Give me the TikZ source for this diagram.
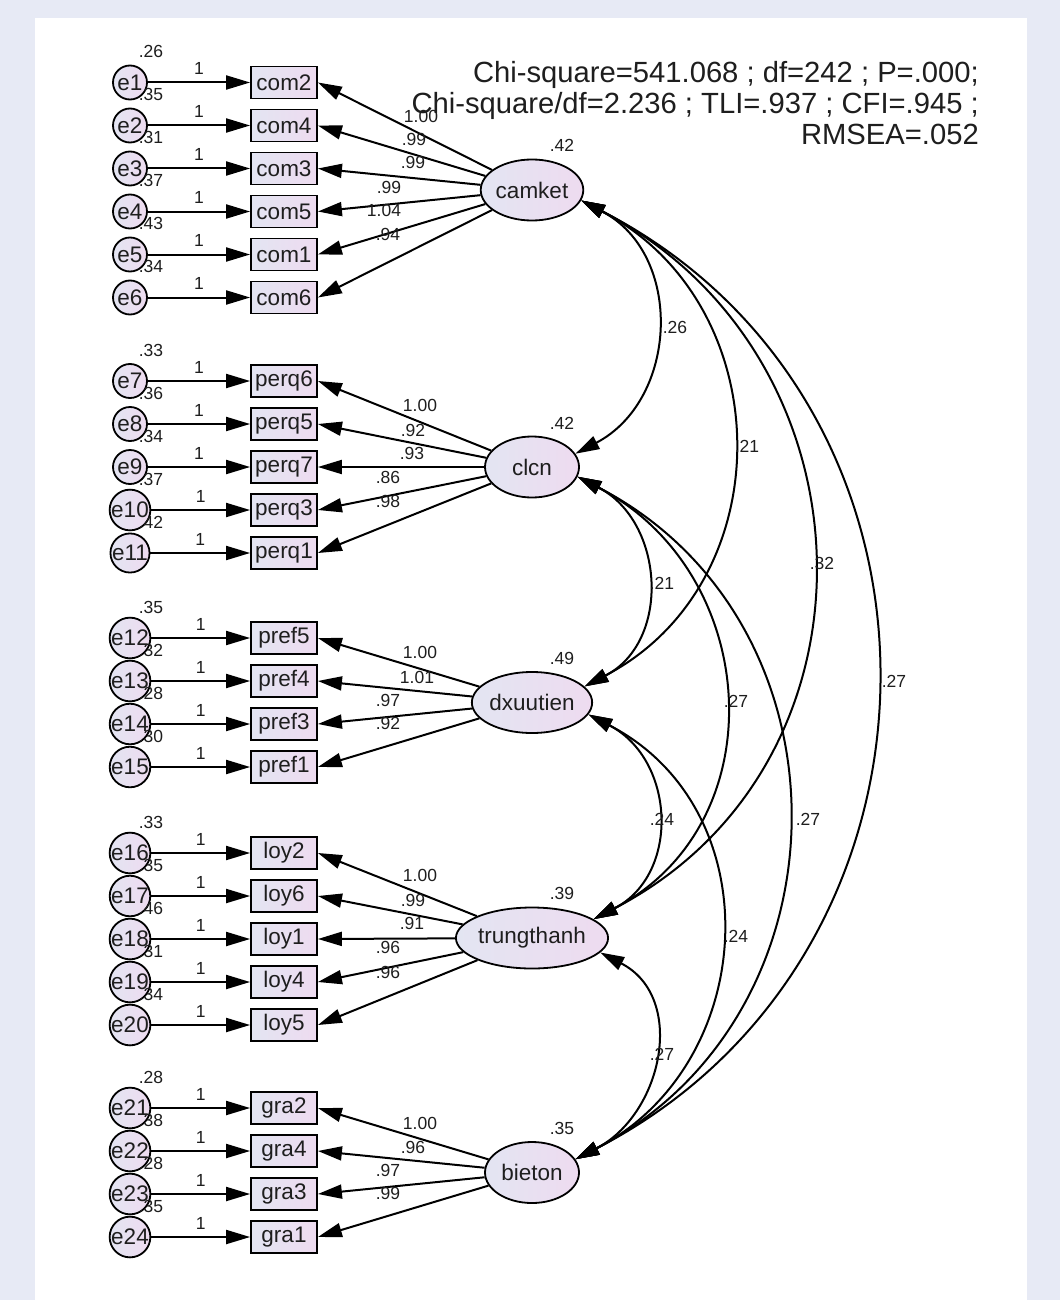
\documentclass[tikz,border=0pt]{standalone}
\usepackage{fontspec}
\setmainfont{Liberation Sans}
\usetikzlibrary{arrows.meta,shapes.geometric}
\definecolor{bandc}{HTML}{E7EAF5}
\definecolor{fillL}{HTML}{E3E5F2}
\definecolor{fillR}{HTML}{EEDBF0}
\definecolor{ink}{HTML}{1E1E1E}
\begin{document}
\begin{tikzpicture}[x=1pt,y=-1pt,
  every node/.style={font=\fontsize{22.5}{26}\selectfont, text=ink},
  lat/.style={ellipse, draw, line width=1.8pt, minimum width=94pt, minimum height=61pt, inner sep=0pt, left color=fillL, right color=fillR},
  obs/.style={rectangle, draw, line width=1.8pt, minimum width=66pt, minimum height=32pt, inner sep=0pt, left color=fillL, right color=fillR},
  err/.style={circle, draw, line width=1.8pt, minimum size=34pt, inner sep=0pt, left color=fillL, right color=fillR},
  lbl/.style={font=\fontsize{17.5}{19}\selectfont, inner sep=0pt},
  ttl/.style={font=\fontsize{29.2}{32}\selectfont, inner sep=0pt, anchor=base east},
  conn/.style={line width=2pt, -{Triangle[length=24pt,width=14pt]}},
  cov/.style={line width=2pt, {Triangle[length=24pt,width=14pt]}-{Triangle[length=24pt,width=14pt]}},
]
\useasboundingbox (0,0) rectangle (1060,1300);
\fill[bandc] (0,0) rectangle (1060,1300);
\fill[white] (35,18) rectangle (1027,1300);

% title
\node[ttl] (t1) at (979,83) {Chi-square=541.068 ; df=242 ; P=.000;};
\node[ttl] (t2) at (979,114) {Chi-square/df=2.236 ; TLI=.937 ; CFI=.945 ;};
\node[ttl] (t3) at (979,145) {RMSEA=.052};

% latent variables
\node[lat] (camket) at (532,190) {camket};
\node[lat] (clcn) at (532,467) {clcn};
\node[lat] (dxuutien) at (532,702.5) {dxuutien};
\node[lat] (trungthanh) at (532,938) {trungthanh};
\node[lat] (bieton) at (532,1172.5) {bieton};

\node[lbl] (vcam) at (562,145) {.42};
\node[lbl] (vclcn) at (562,423) {.42};
\node[lbl] (vdx) at (562,658) {.49};
\node[lbl] (vtr) at (562,893) {.39};
\node[lbl] (vbi) at (562,1128) {.35};

% indicators with error terms
\foreach \ee/\bx/\yy/\vv in {
  e1/com2/82.5/.26, e2/com4/125.5/.35, e3/com3/168.5/.31, e4/com5/211.5/.37, e5/com1/254.5/.43, e6/com6/297.5/.34,
  e7/perq6/381/.33, e8/perq5/424/.36, e9/perq7/467/.34, e10/perq3/510/.37, e11/perq1/553/.42,
  e12/pref5/638/.35, e13/pref4/681/.32, e14/pref3/724/.28, e15/pref1/767/.30,
  e16/loy2/853/.33, e17/loy6/896/.35, e18/loy1/939/.46, e19/loy4/982/.31, e20/loy5/1025/.34,
  e21/gra2/1108/.28, e22/gra4/1151/.38, e23/gra3/1194/.28, e24/gra1/1237/.35}{
  \node[err] (\ee) at (130,\yy) {\ee};
  \node[obs] (\bx) at (284,\yy) {\bx};
  \draw[conn] (\ee) -- node[lbl, above=7pt] (one\ee) {1} (\bx);
  \node[lbl] (var\ee) at (151,\yy-31) {\vv};
}

% loadings
\foreach \lat/\bx/\lx/\ly/\val in {
  camket/com2/421/116/1.00, camket/com4/414/139/.99, camket/com3/413/162/.99,
  camket/com5/389/187/.99, camket/com1/384/210/1.04, camket/com6/388/234/.94,
  clcn/perq6/420/405/1.00, clcn/perq5/413/430/.92, clcn/perq7/412/453/.93,
  clcn/perq3/388/477/.86, clcn/perq1/388/501/.98,
  dxuutien/pref5/420/652/1.00, dxuutien/pref4/417/677/1.01, dxuutien/pref3/388/700/.97, dxuutien/pref1/388/723/.92,
  trungthanh/loy2/420/875/1.00, trungthanh/loy6/413/900/.99, trungthanh/loy1/412/923/.91,
  trungthanh/loy4/388/947/.96, trungthanh/loy5/388/972/.96,
  bieton/gra2/420/1123/1.00, bieton/gra4/413/1147/.96, bieton/gra3/388/1170/.97, bieton/gra1/388/1193/.99}{
  \draw[conn] (\lat) -- (\bx.east);
  \node[lbl] (ld\bx) at (\lx,\ly) {\val};
}

% covariances
\draw[cov] (camket.-12) .. controls +(103,54) and +(103,-54) .. (clcn.17);
\draw[cov] (camket.-12) .. controls +(199,104) and +(199,-104) .. (dxuutien.17);
\draw[cov] (camket.-12) .. controls +(299,155) and +(299,-155) .. (trungthanh.17);
\draw[cov] (camket.-12) .. controls +(396,204) and +(396,-204) .. (bieton.17);
\draw[cov] (clcn.-12) .. controls +(87,45) and +(87,-45) .. (dxuutien.17);
\draw[cov] (clcn.-12) .. controls +(184,96) and +(184,-96) .. (trungthanh.17);
\draw[cov] (clcn.-12) .. controls +(280,145) and +(280,-145) .. (bieton.17);
\draw[cov] (dxuutien.-12) .. controls +(87,45) and +(87,-45) .. (trungthanh.17);
\draw[cov] (dxuutien.-12) .. controls +(184,95) and +(184,-95) .. (bieton.17);
\draw[cov] (trungthanh.-12) .. controls +(87,45) and +(87,-45) .. (bieton.17);

\node[lbl] (c1) at (675,327) {.26};
\node[lbl] (c2) at (747,446) {.21};
\node[lbl] (c3) at (822,563) {.32};
\node[lbl] (c4) at (894,681) {.27};
\node[lbl] (c5) at (662,583) {.21};
\node[lbl] (c6) at (736,701) {.27};
\node[lbl] (c7) at (808,819) {.27};
\node[lbl] (c8) at (662,819) {.24};
\node[lbl] (c9) at (736,936) {.24};
\node[lbl] (c10) at (662,1054) {.27};
\end{tikzpicture}
\end{document}
